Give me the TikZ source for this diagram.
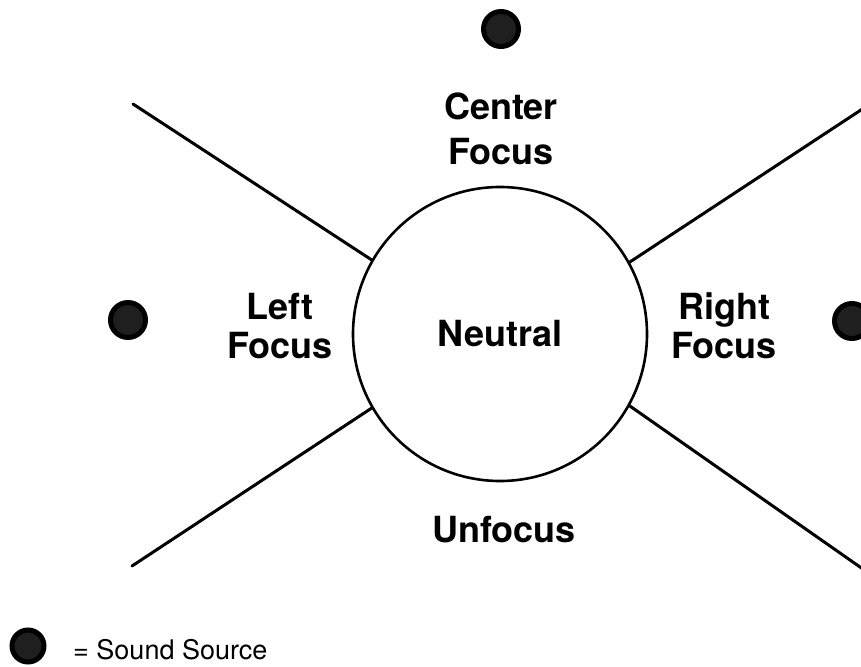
\documentclass[tikz,border=0pt]{standalone}
\usepackage{fontspec}
\setmainfont{TeX Gyre Heros}
\usetikzlibrary{positioning}

\begin{document}
\begin{tikzpicture}[
    x=1pt, y=-1pt,
    zone/.style={
      font=\fontsize{36}{39}\selectfont\bfseries,
      align=center,
      inner sep=0pt
    },
    source/.style={
      circle,
      draw=black,
      line width=5pt,
      fill=black!88,
      minimum size=35pt,
      inner sep=0pt
    },
    edge/.style={line width=3pt, line cap=round}
  ]
  \useasboundingbox (0,0) rectangle (861,666);

  % zones around the listener
  \node[circle, draw, line width=2.6pt, minimum size=294pt, inner sep=0pt,
        font=\fontsize{36}{39}\selectfont\bfseries] (neutral) at (500,334) {Neutral};
  \node[zone] (center) at (501,129) {Center\\[6pt]Focus};
  \node[zone] (left) at (280,326) {Left\\Focus};
  \node[zone] (right) at (724,326) {Right\\Focus};
  \node[zone, anchor=base] (unfocus) at (504,542) {Unfocus};

  % zone borders
  \coordinate (ul) at (133,104);
  \coordinate (ur) at (870,104);
  \coordinate (ll) at (132,566);
  \coordinate (lr) at (870,574);
  \draw[edge] (neutral.150) -- (ul);
  \draw[edge] (neutral.29) -- (ur);
  \draw[edge] (neutral.210) -- (ll);
  \draw[edge] (neutral.331) -- (lr);

  % sound sources
  \node[source] (top) at (501,29) {};
  \node[source] (west) at (128,320) {};
  \node[source] (east) at (852,321) {};

  % legend
  \node[source, minimum size=32pt] (key) at (28,646) {};
  \node[anchor=base west, inner sep=0pt, font=\fontsize{27}{32}\selectfont]
    (keytext) at (73,659) {= Sound Source};
\end{tikzpicture}
\end{document}
